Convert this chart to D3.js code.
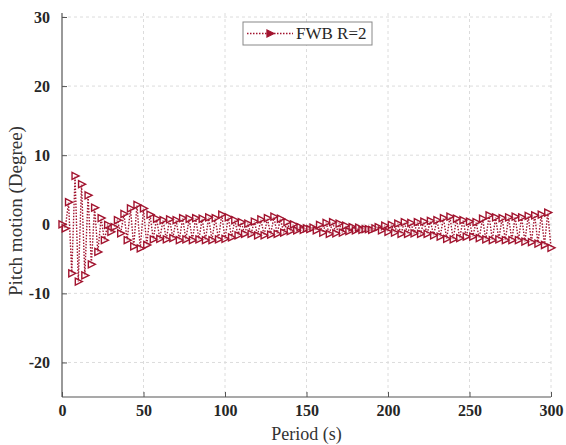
<!DOCTYPE html>
<html><head><meta charset="utf-8">
<script src="https://cdn.jsdelivr.net/npm/d3@7"></script>
<style>body{margin:0;background:#fff;}svg{display:block;}</style>
</head><body>
<svg id="chart" width="566" height="445"></svg>
<script>
const seriesName = "FWB R=2";
const period = [0,2,4,6,8,10,12,14,16,18,20,22,24,26,28,30,32,34,36,38,40,42,44,46,48,50,52,54,56,58,60,62,64,66,68,70,72,74,76,78,80,82,84,86,88,90,92,94,96,98,100,102,104,106,108,110,112,114,116,118,120,122,124,126,128,130,132,134,136,138,140,142,144,146,148,150,152,154,156,158,160,162,164,166,168,170,172,174,176,178,180,182,184,186,188,190,192,194,196,198,200,202,204,206,208,210,212,214,216,218,220,222,224,226,228,230,232,234,236,238,240,242,244,246,248,250,252,254,256,258,260,262,264,266,268,270,272,274,276,278,280,282,284,286,288,290,292,294,296,298,300];
const pitch = [0.0,-0.6,3.2,-7.1,7.0,-8.3,5.8,-7.4,4.2,-5.8,2.4,-4.0,0.9,-2.3,-0.1,-1.1,-0.4,0.6,-1.3,1.5,-2.3,2.3,-3.2,2.8,-3.5,2.3,-3.0,1.4,-2.2,0.8,-2.1,0.6,-2.2,0.7,-2.0,0.6,-2.3,0.9,-2.2,0.8,-2.3,0.9,-2.2,0.8,-2.3,1.0,-2.3,0.9,-2.2,1.4,-2.1,1.0,-1.9,0.6,-1.6,0.3,-1.4,0.1,-1.4,0.4,-1.6,0.7,-1.6,0.9,-1.5,1.1,-1.4,0.8,-1.2,0.3,-1.0,0.0,-0.9,-0.4,-0.8,-0.6,-0.7,-0.5,-0.9,-0.1,-1.2,0.2,-1.4,0.3,-1.3,0.1,-1.2,-0.2,-1.0,-0.4,-0.9,-0.5,-0.8,-0.7,-0.7,-0.8,-0.6,-0.4,-0.9,-0.2,-1.1,-0.1,-1.2,0.1,-1.4,0.3,-1.4,0.2,-1.3,0.3,-1.4,0.4,-1.4,0.5,-1.6,0.6,-1.8,0.9,-2.1,1.1,-2.2,0.8,-2.0,0.6,-1.8,0.4,-1.8,0.3,-2.0,0.8,-2.2,1.3,-2.3,1.0,-2.2,0.9,-2.3,1.0,-2.3,1.1,-2.3,1.0,-2.5,1.2,-2.6,1.3,-2.8,1.4,-3.0,1.7,-3.4];
const xTicks = [0,50,100,150,200,250,300];
const yTicks = [-20,-10,0,10,20,30];
const xTitle = "Period (s)";
const yTitle = "Pitch motion (Degree)";

const color = "#a2142f";
const svg = d3.select("#chart");
const m = {left:62, right:551, top:17, bottom:397};
const x = d3.scaleLinear().domain([0,300]).range([m.left, m.right]);
const y = d3.scaleLinear().domain([-25,30]).range([m.bottom, m.top]);

// grid
const grid = svg.append("g").attr("stroke","#dcdcdc").attr("stroke-width",1).attr("stroke-dasharray","3,3");
xTicks.filter(t=>t>0).forEach(t=>grid.append("line").attr("x1",x(t)).attr("x2",x(t)).attr("y1",m.top-4).attr("y2",m.bottom));
yTicks.forEach(t=>grid.append("line").attr("x1",m.left).attr("x2",m.right).attr("y1",y(t)).attr("y2",y(t)));

// axes
const xAxis = d3.axisBottom(x).tickValues(xTicks).tickSize(-5).tickPadding(8).tickFormat(d=>String(d));
const yAxis = d3.axisLeft(y).tickValues(yTicks).tickSize(-5).tickPadding(12).tickFormat(d=>String(d).replace("\u2212","-"));
const gx = svg.append("g").attr("transform",`translate(0,${m.bottom})`).call(xAxis);
const gy = svg.append("g").attr("transform",`translate(${m.left},0)`).call(yAxis);
[gx,gy].forEach(g=>{
  g.select(".domain").attr("stroke","#555").attr("stroke-width",1.2);
  g.selectAll(".tick line").attr("stroke","#555");
  g.selectAll(".tick text").attr("font-family","'Liberation Serif', 'Times New Roman', serif")
   .attr("font-weight","bold").attr("font-size",16).attr("fill","#262626");
});
gy.select(".domain").attr("d",`M0,${m.top-4}V${m.bottom}`);
gx.select(".domain").attr("d",`M${m.left},0H${m.right}`);

// titles
svg.append("text").attr("x",(m.left+m.right)/2).attr("y",440).attr("text-anchor","middle")
  .attr("font-family","'Liberation Serif', serif").attr("font-size",18).attr("fill","#333").text(xTitle);
svg.append("text").attr("transform",`translate(22,${(m.top+m.bottom)/2+4}) rotate(-90)`).attr("text-anchor","middle")
  .attr("font-family","'Liberation Serif', serif").attr("font-size",19).attr("fill","#333").text(yTitle);

// data
const data = period.map((p,i)=>({p, v:pitch[i]}));
svg.append("path").datum(data)
  .attr("d", d3.line().x(d=>x(d.p)).y(d=>y(d.v)))
  .attr("fill","none").attr("stroke",color).attr("stroke-width",1.4).attr("stroke-dasharray","1.5,1.5");
const tri = "M-3,-3.5L4,0L-3,3.5Z";
svg.append("g").selectAll("path").data(data).join("path")
  .attr("d",tri).attr("transform",d=>`translate(${x(d.p)},${y(d.v)})`)
  .attr("fill","#fff").attr("fill-opacity",0.5).attr("stroke",color).attr("stroke-width",1.4);

// legend
const lg = svg.append("g");
lg.append("rect").attr("x",243).attr("y",22).attr("width",129).attr("height",23)
  .attr("fill","#fff").attr("stroke","#888").attr("stroke-width",1);
lg.append("line").attr("x1",247).attr("x2",293).attr("y1",33.5).attr("y2",33.5)
  .attr("stroke",color).attr("stroke-width",1.4).attr("stroke-dasharray","1.5,1.5");
lg.append("path").attr("d",tri).attr("transform","translate(270,33.5)").attr("fill",color).attr("stroke",color).attr("stroke-width",1.3);
lg.append("text").attr("x",296).attr("y",39).attr("font-family","'Liberation Serif', serif")
  .attr("font-size",17).attr("fill","#262626").text(seriesName);
</script>
</body></html>
